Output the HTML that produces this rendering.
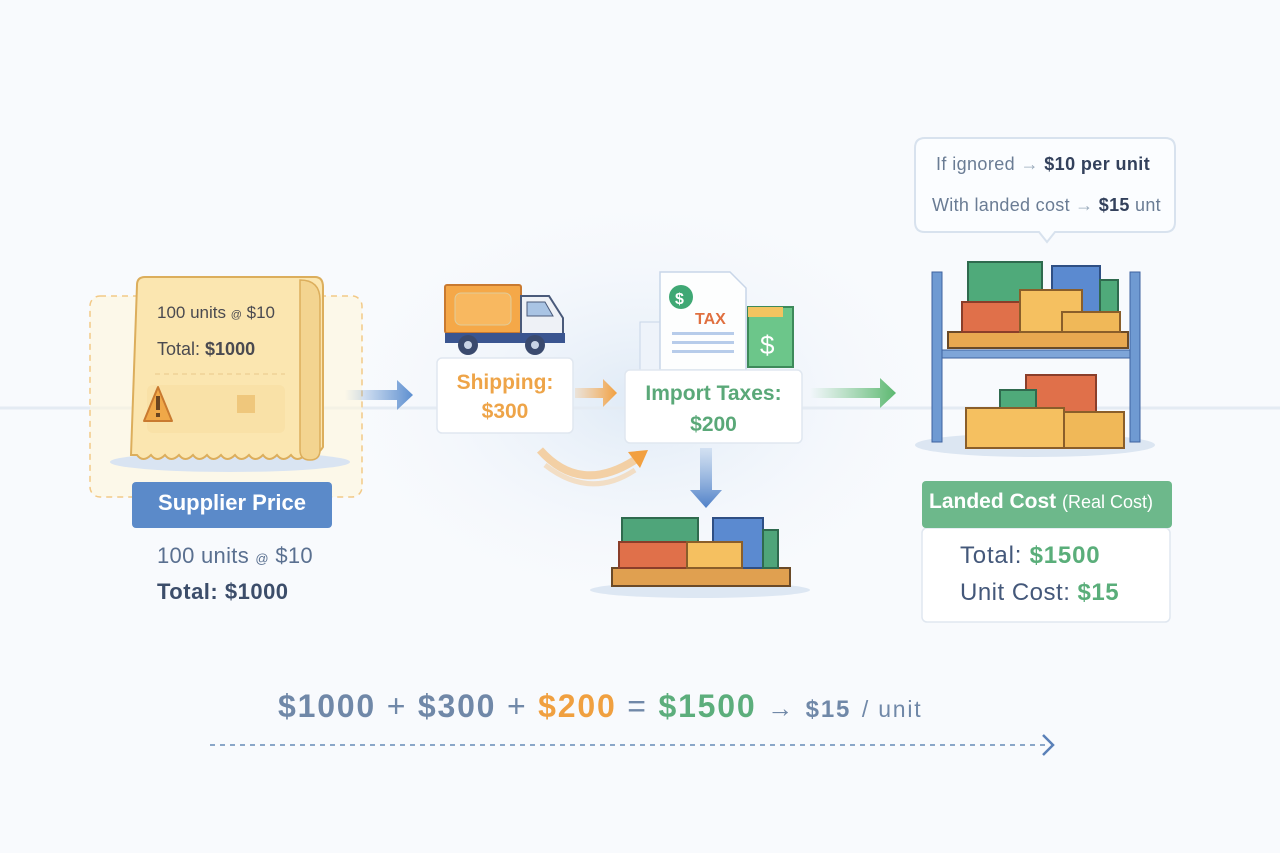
<!DOCTYPE html>
<html><head><meta charset="utf-8"><style>
body{margin:0;width:1280px;height:853px;overflow:hidden;background:#f8fafd;font-family:"Liberation Sans","DejaVu Sans",sans-serif;position:relative}
.a{position:absolute}
.t{position:absolute;white-space:nowrap}
</style></head><body>
<svg class="a" style="left:0;top:0" width="1280" height="853">
<defs>
<radialGradient id="glow" cx="50%" cy="50%" r="50%"><stop offset="0" stop-color="#dfeaf6"/><stop offset="1" stop-color="#f8fafd" stop-opacity="0"/></radialGradient>
<linearGradient id="ba" x1="0" x2="1"><stop offset="0" stop-color="#6f9bd2" stop-opacity="0"/><stop offset="1" stop-color="#5d8fd0"/></linearGradient>
<linearGradient id="ga" x1="0" x2="1"><stop offset="0" stop-color="#6cc080" stop-opacity="0"/><stop offset="1" stop-color="#5cb870"/></linearGradient>
<linearGradient id="oa" x1="0" x2="1"><stop offset="0" stop-color="#f5b060" stop-opacity="0.2"/><stop offset="1" stop-color="#f2a040"/></linearGradient>
<linearGradient id="da" x1="0" y1="0" x2="0" y2="1"><stop offset="0" stop-color="#6f9bd2" stop-opacity="0.2"/><stop offset="1" stop-color="#4f80c8"/></linearGradient>
</defs>
<ellipse cx="640" cy="400" rx="330" ry="220" fill="url(#glow)"/>
<line x1="0" y1="408" x2="1280" y2="408" stroke="#e4ebf3" stroke-width="3"/>
<rect x="90" y="296" width="272" height="201" rx="10" fill="#fff6dc" fill-opacity="0.6" stroke="#f2c987" stroke-dasharray="6 5" stroke-width="1.5"/>
<ellipse cx="230" cy="462" rx="120" ry="10" fill="#d9e4f2"/>
<path d="M137 285 q0-8 8-8 h170 q8 0 8 10 v160 q-5 8 -12 8 l-6 0 q-8 8-14 0 q-8 8-14 0 q-8 8-14 0 q-8 8-14 0 q-8 8-14 0 q-8 8-14 0 q-8 8-14 0 q-8 8-14 0 q-8 8-14 0 q-8 8-14 0 q-8 8-14 0 q-8 8-14 0 l-6 0 Z" fill="#fbe6b0" stroke="#dcae5c" stroke-width="2"/>
<path d="M300 280 q20 0 20 20 v150 q0 10 -10 10 q-10 0-10-10 z" fill="#f3d490" stroke="#dcae5c" stroke-width="1.5"/>
<line x1="155" y1="374" x2="285" y2="374" stroke="#e8c88a" stroke-dasharray="5 4"/>
<rect x="147" y="385" width="138" height="48" rx="6" fill="#f8dea4" opacity="0.7"/>
<rect x="237" y="395" width="18" height="18" fill="#efc77c"/>
<path d="M158 387 l-14 34 h28 z" fill="#f0a848" stroke="#c97a30" stroke-width="2" stroke-linejoin="round"/>
<rect x="156" y="396" width="4" height="14" fill="#6a4420"/><rect x="156" y="413" width="4" height="4" fill="#6a4420"/>
<path d="M345 390 h52 v-10 l16 15 -16 15 v-10 h-52z" fill="url(#ba)"/>
<path d="M575 388 h28 v-9 l14 14 -14 14 v-9 h-28z" fill="url(#oa)"/>
<path d="M810 388 h70 v-10 l16 15 -16 15 v-10 h-70z" fill="url(#ga)"/>
<path d="M700 448 h12 v42 h10 l-16 18 -16 -18 h10z" fill="url(#da)"/>
<path d="M540 450 q40 45 95 10" fill="none" stroke="#f5c080" stroke-width="8" opacity="0.7"/>
<path d="M545 465 q45 35 90 5" fill="none" stroke="#f5c890" stroke-width="5" opacity="0.5"/>
<path d="M628 452 l20 -2 -8 18z" fill="#f2a040"/>
<rect x="445" y="285" width="76" height="48" rx="2" fill="#f5a848" stroke="#c97a30" stroke-width="2"/>
<rect x="455" y="293" width="56" height="32" rx="6" fill="#f8b860" stroke="#e0cc9a"/>
<path d="M521 296 h28 l14 22 v18 h-42z" fill="#eef1f6" stroke="#4a5a7a" stroke-width="2"/>
<path d="M527 302 h18 l8 14 h-26z" fill="#a9c4e4" stroke="#4a5a7a"/>
<rect x="445" y="333" width="120" height="10" fill="#3a5590"/>
<circle cx="468" cy="345" r="10" fill="#3a4a6e"/><circle cx="468" cy="345" r="4" fill="#c9d4e6"/>
<circle cx="535" cy="345" r="10" fill="#3a4a6e"/><circle cx="535" cy="345" r="4" fill="#c9d4e6"/>
<rect x="640" y="322" width="30" height="50" fill="#eef3fa" stroke="#c8d6e8"/>
<rect x="748" y="307" width="45" height="60" fill="#6cc68a" stroke="#3d8a5a" stroke-width="2"/>
<rect x="748" y="307" width="35" height="10" fill="#f3c460"/>
<text x="760" y="354" font-size="26" fill="#fff" font-family="Liberation Sans">$</text>
<path d="M660 272 h70 l16 16 v82 h-86z" fill="#fdfefe" stroke="#c8d6e8" stroke-width="1.5"/>
<circle cx="681" cy="297" r="12" fill="#3fa874"/><text x="675" y="304" font-size="16" fill="#fff" font-weight="bold">$</text>
<text x="695" y="324" font-size="16" fill="#e07040" font-weight="bold">TAX</text>
<rect x="672" y="332" width="62" height="3" fill="#b7ccea"/><rect x="672" y="341" width="62" height="3" fill="#b7ccea"/><rect x="672" y="350" width="62" height="3" fill="#b7ccea"/>
<ellipse cx="700" cy="590" rx="110" ry="8" fill="#dde7f3"/>
<rect x="612" y="568" width="178" height="18" fill="#e0a050" stroke="#6a4a28" stroke-width="2"/>
<rect x="622" y="518" width="76" height="24" fill="#4fa57a" stroke="#2f6a4e" stroke-width="2"/>
<rect x="713" y="518" width="50" height="50" fill="#5b8ad0" stroke="#2f4f84" stroke-width="2"/>
<rect x="763" y="530" width="15" height="38" fill="#4fa57a" stroke="#2f6a4e" stroke-width="2"/>
<rect x="619" y="542" width="68" height="26" fill="#e0704a" stroke="#8a3e2a" stroke-width="2"/>
<rect x="687" y="542" width="55" height="26" fill="#f5c060" stroke="#8a5e2a" stroke-width="2"/>
<ellipse cx="1035" cy="445" rx="120" ry="12" fill="#dce6f2"/>
<rect x="932" y="272" width="10" height="170" fill="#6f9ad2" stroke="#3e63a0"/>
<rect x="1130" y="272" width="10" height="170" fill="#6f9ad2" stroke="#3e63a0"/>
<rect x="942" y="350" width="188" height="8" fill="#7ea5d8" stroke="#3e63a0"/>
<rect x="948" y="332" width="180" height="16" fill="#e8a850" stroke="#6a4a28" stroke-width="2"/>
<rect x="968" y="262" width="74" height="40" fill="#4faa7a" stroke="#2f6a4e" stroke-width="2"/>
<rect x="1052" y="266" width="48" height="50" fill="#5b8ad0" stroke="#2f4f84" stroke-width="2"/>
<rect x="1100" y="280" width="18" height="35" fill="#4faa7a" stroke="#2f6a4e" stroke-width="2"/>
<rect x="962" y="302" width="58" height="30" fill="#e0704a" stroke="#8a3e2a" stroke-width="2"/>
<rect x="1020" y="290" width="62" height="42" fill="#f5c060" stroke="#8a5e2a" stroke-width="2"/>
<rect x="1062" y="312" width="58" height="20" fill="#f0b858" stroke="#8a5e2a" stroke-width="2"/>
<rect x="1026" y="375" width="70" height="38" fill="#e0704a" stroke="#8a3e2a" stroke-width="2"/>
<rect x="1000" y="390" width="36" height="20" fill="#4faa7a" stroke="#2f6a4e" stroke-width="2"/>
<rect x="966" y="408" width="98" height="40" fill="#f5c060" stroke="#8a5e2a" stroke-width="2"/>
<rect x="1064" y="412" width="60" height="36" fill="#f0b858" stroke="#8a5e2a" stroke-width="2"/>
<path d="M925 138 h240 q10 0 10 10 v74 q0 10 -10 10 h-110 l-8 10 -8 -10 h-114 q-10 0 -10 -10 v-74 q0 -10 10 -10z" fill="#fbfdff" stroke="#d8e2ee" stroke-width="2"/>
<rect x="437" y="358" width="136" height="75" rx="5" fill="#fff" stroke="#e0e7f0" stroke-width="1.5"/>
<rect x="625" y="370" width="177" height="73" rx="5" fill="#fff" stroke="#e0e7f0" stroke-width="1.5"/>
<rect x="132" y="482" width="200" height="46" rx="4" fill="#5b8ac9"/>
<rect x="922" y="528" width="248" height="94" rx="5" fill="#fff" stroke="#e0e7f0" stroke-width="1.5"/>
<rect x="922" y="481" width="250" height="47" rx="4" fill="#6db88b"/>
<line x1="210" y1="745" x2="1050" y2="745" stroke="#8aa6c8" stroke-width="2" stroke-dasharray="5 5"/>
<path d="M1043 735 l10 10 -10 10" fill="none" stroke="#5a80b8" stroke-width="2.5"/>
</svg>
<div class="t" style="left:157px;top:303px;font-size:17px;color:#4a4a50">100 units <span style="font-size:11px">@</span> $10</div>
<div class="t" style="left:157px;top:339px;font-size:18px;color:#4a4a50">Total: <b>$1000</b></div>
<div class="t" style="left:132px;width:200px;text-align:center;top:490px;font-size:22px;font-weight:bold;color:#fff">Supplier Price</div>
<div class="t" style="left:157px;top:543px;font-size:22px;color:#5a7090;letter-spacing:0.3px">100 units <span style="font-size:13px">@</span> $10</div>
<div class="t" style="left:157px;top:579px;font-size:22px;font-weight:bold;color:#3c4d6a;letter-spacing:0.5px">Total: $1000</div>
<div class="t" style="left:437px;width:136px;text-align:center;top:368px;font-size:21px;font-weight:bold;color:#eea448;line-height:29px">Shipping:<br>$300</div>
<div class="t" style="left:625px;width:177px;text-align:center;top:378px;font-size:21px;font-weight:bold;color:#5aa878;line-height:31px">Import Taxes:<br>$200</div>
<div class="t" style="left:936px;top:154px;font-size:18px;color:#6a7c94;letter-spacing:0.4px">If ignored <span style="color:#9ab">→</span> <b style="color:#33415c">$10 per unit</b></div>
<div class="t" style="left:932px;top:195px;font-size:18px;color:#6a7c94;letter-spacing:0.3px">With landed cost <span style="color:#9ab">→</span> <b style="color:#33415c">$15</b> unt</div>
<div class="t" style="left:929px;top:490px;font-size:21px;font-weight:bold;color:#fff">Landed Cost <span style="font-weight:normal;font-size:18px">(Real Cost)</span></div>
<div class="t" style="left:960px;top:542px;font-size:24px;color:#44587a;letter-spacing:0.8px">Total: <b style="color:#5aae7a">$1500</b></div>
<div class="t" style="left:960px;top:579px;font-size:24px;color:#44587a;letter-spacing:0.5px">Unit Cost: <b style="color:#5aae7a">$15</b></div>
<div class="t" style="left:278px;top:688px;font-size:32px;font-weight:bold;color:#7088a8;letter-spacing:1.8px">$1000 <span style="font-weight:normal">+</span> $300 <span style="font-weight:normal">+</span> <span style="color:#f0a040">$200</span> <span style="font-weight:normal">=</span> <span style="color:#5cae7c">$1500</span> <span style="font-weight:normal;font-size:26px">→</span> <span style="font-size:24px">$15</span> <span style="font-weight:normal;font-size:23px">/ unit</span></div>
</body></html>
